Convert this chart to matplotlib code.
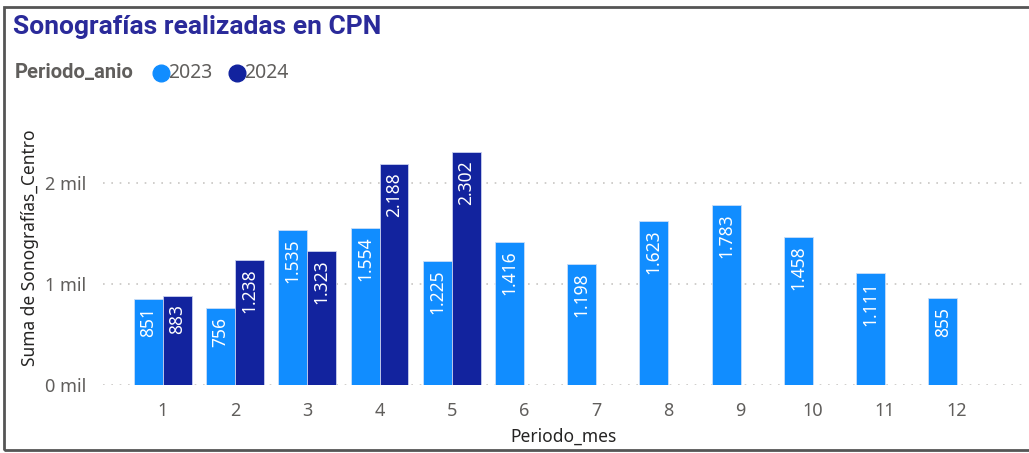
import matplotlib
matplotlib.use("Agg")
import matplotlib.pyplot as plt
from matplotlib.patches import Rectangle
from matplotlib.lines import Line2D
import numpy as np

months = [1, 2, 3, 4, 5, 6, 7, 8, 9, 10, 11, 12]
vals_2023 = [851, 756, 1535, 1554, 1225, 1416, 1198, 1623, 1783, 1458, 1111, 855]
vals_2024 = [883, 1238, 1323, 2188, 2302]
series_names = ["2023", "2024"]
yticks = [0, 1000, 2000]
ytick_labels = ["0 mil", "1 mil", "2 mil"]

c23 = "#118DFF"
c24 = "#12239E"
txt = "#605E5C"

plt.rcParams['font.family'] = ['Noto Sans', 'DejaVu Sans']

W, H = 1029, 453
fig = plt.figure(figsize=(W / 100, H / 100), dpi=100)
ax = fig.add_axes([103 / W, 1 - 385 / H, (1025 - 103) / W, (385 - 132) / H])

x = np.arange(len(months))
bw = 0.4
ax.bar(x - bw / 2, vals_2023, width=bw, color=c23, edgecolor="#C9DDF7", linewidth=0.6, zorder=3)
x2 = x[:len(vals_2024)]
ax.bar(x2 + bw / 2, vals_2024, width=bw, color=c24, edgecolor="#C9D0EE", linewidth=0.6, zorder=3)

def fmt(v):
    return f"{v:,}".replace(",", ".")

for xs, vs in ((x - bw / 2, vals_2023), (x2 + bw / 2, vals_2024)):
    for xi, v in zip(xs, vs):
        ax.annotate(fmt(v), (xi, v), xytext=(0, -6), textcoords="offset points",
                    rotation=90, ha="center", va="top", color="white", fontsize=12.5, zorder=4)

ax.set_xlim(-0.83, 11.94)
ax.set_ylim(0, 2500)
ax.set_yticks(yticks)
ax.set_yticklabels(ytick_labels)
ax.set_xticks(x)
ax.set_xticklabels([str(m) for m in months])
ax.tick_params(axis="both", length=0, colors=txt, labelsize=13)
ax.tick_params(axis="y", pad=12)
ax.tick_params(axis="x", pad=12)
for s in ax.spines.values():
    s.set_visible(False)
ax.grid(axis="y", color="#C8C6C4", linestyle=(0, (1, 4)), linewidth=1.2, zorder=0)
ax.set_axisbelow(True)

ax.set_xlabel("Periodo_mes", color="#252423", fontsize=12.5, labelpad=6)
fig.text(30 / W, 1 - 248 / H, "Suma de Sonografías_Centro", rotation=90, ha="center", va="center",
         color="#252423", fontsize=12.5)

fig.text(13 / W, 1 - 27 / H, "Sonografías realizadas en CPN", ha="left", va="center",
         color="#2A2A9A", fontsize=19, fontweight="bold", family=["Roboto", "DejaVu Sans"])

fig.text(15 / W, 1 - 73 / H, "Periodo_anio", ha="left", va="center", color=txt,
         fontsize=14.5, fontweight="bold", family=["Roboto", "DejaVu Sans"])
for cx, col, name in ((161, c23, series_names[0]), (237, c24, series_names[1])):
    fig.add_artist(Line2D([cx / W], [1 - 73 / H], marker="o", markersize=12, color=col,
                          linestyle="none", transform=fig.transFigure))
    fig.text((cx + 7) / W, 1 - 73 / H, name, ha="left", va="center", color=txt, fontsize=14)

fig.add_artist(Rectangle((4 / W, 1 - 450 / H), 1.1, (450 - 7) / H, transform=fig.transFigure,
                         fill=False, edgecolor="#555555", linewidth=2, clip_on=False))

fig.savefig("out.png", dpi=100)
